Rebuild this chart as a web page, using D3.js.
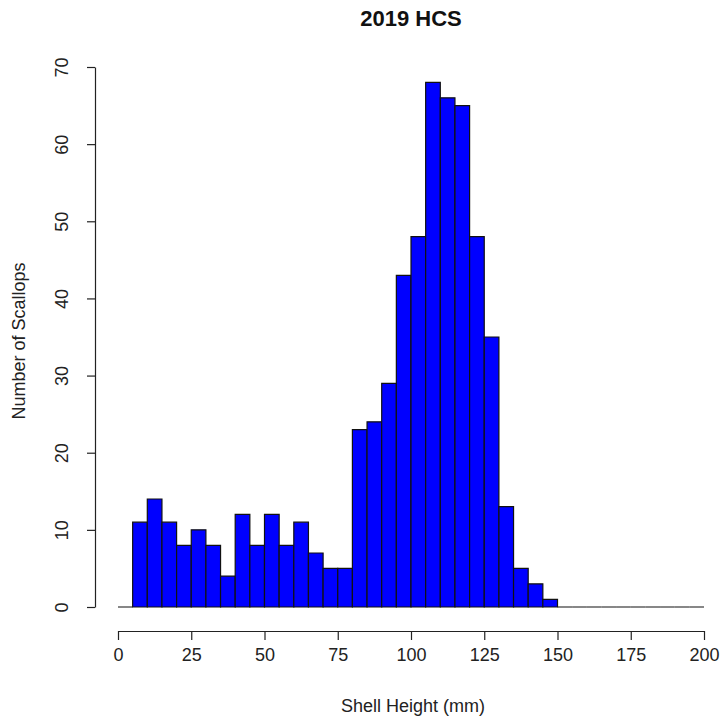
<!DOCTYPE html>
<html>
<head>
<meta charset="utf-8">
<script src="https://cdn.jsdelivr.net/npm/d3@7"></script>
<style>
  html, body { margin: 0; padding: 0; background: #fff; }
  svg { display: block; font-family: "Liberation Sans", Arial, sans-serif; }
</style>
</head>
<body>
<svg id="chart" width="722" height="721"></svg>
<script>
// Shell height histogram, 5 mm bins from 0 to 200 mm
const binWidth = 5;
const counts = [
  0, 11, 14, 11, 8, 10, 8, 4, 12, 8,
  12, 8, 11, 7, 5, 5, 23, 24, 29, 43,
  48, 68, 66, 65, 48, 35, 13, 5, 3, 1,
  0, 0, 0, 0, 0, 0, 0, 0, 0, 0
];
const xTicks = [0, 25, 50, 75, 100, 125, 150, 175, 200];
const yTicks = [0, 10, 20, 30, 40, 50, 60, 70];
const title = "2019 HCS";
const xLabel = "Shell Height (mm)";
const yLabel = "Number of Scallops";

const bins = counts.map((c, i) => ({ x0: i * binWidth, x1: (i + 1) * binWidth, n: c }));

const svg = d3.select("#chart");
const x = d3.scaleLinear().domain([0, 200]).range([118, 704]);
const y = d3.scaleLinear().domain([0, 70]).range([607, 67]);

// bars drawn as closed outlines so empty bins still show their border on the baseline
svg.append("g")
  .selectAll("path")
  .data(bins)
  .join("path")
  .attr("d", d => {
    const p = d3.path();
    p.moveTo(x(d.x0), y(0));
    p.lineTo(x(d.x0), y(d.n));
    p.lineTo(x(d.x1), y(d.n));
    p.lineTo(x(d.x1), y(0));
    p.closePath();
    return p.toString();
  })
  .attr("fill", "#0000ff")
  .attr("stroke", "#111")
  .attr("stroke-width", 1.2);

const fontFam = "'Liberation Sans', Arial, sans-serif";

// x axis, offset below the bars
const xAxis = svg.append("g")
  .attr("transform", "translate(0,631)")
  .call(d3.axisBottom(x).tickValues(xTicks).tickSize(9).tickSizeOuter(0).tickPadding(8).tickFormat(d3.format("d")));
xAxis.select(".domain").attr("stroke", "#222").attr("stroke-width", 1.2);
xAxis.selectAll(".tick line").attr("stroke", "#222").attr("stroke-width", 1.2);
xAxis.selectAll(".tick text").attr("font-size", 18).attr("fill", "#222")
  .attr("font-family", fontFam);

// y axis
const yAxis = svg.append("g")
  .attr("transform", "translate(95,0)")
  .call(d3.axisLeft(y).tickValues(yTicks).tickSize(8).tickSizeOuter(0).tickFormat(d3.format("d")));
yAxis.select(".domain").attr("stroke", "#222").attr("stroke-width", 1.2);
yAxis.selectAll(".tick line").attr("stroke", "#222").attr("stroke-width", 1.2);
yAxis.selectAll(".tick text")
  .attr("font-size", 18).attr("fill", "#222")
  .attr("font-family", fontFam)
  .attr("x", null).attr("dy", null)
  .attr("text-anchor", "middle")
  .attr("transform", "translate(-27,0) rotate(-90)");

// titles
svg.append("text")
  .attr("x", 411).attr("y", 26)
  .attr("text-anchor", "middle")
  .attr("font-size", 22).attr("font-weight", "bold").attr("fill", "#111")
  .text(title);

svg.append("text")
  .attr("x", 413).attr("y", 712)
  .attr("text-anchor", "middle")
  .attr("font-size", 18).attr("fill", "#222")
  .text(xLabel);

svg.append("text")
  .attr("transform", "translate(25,341) rotate(-90)")
  .attr("text-anchor", "middle")
  .attr("font-size", 18).attr("fill", "#222")
  .text(yLabel);
</script>
</body>
</html>
